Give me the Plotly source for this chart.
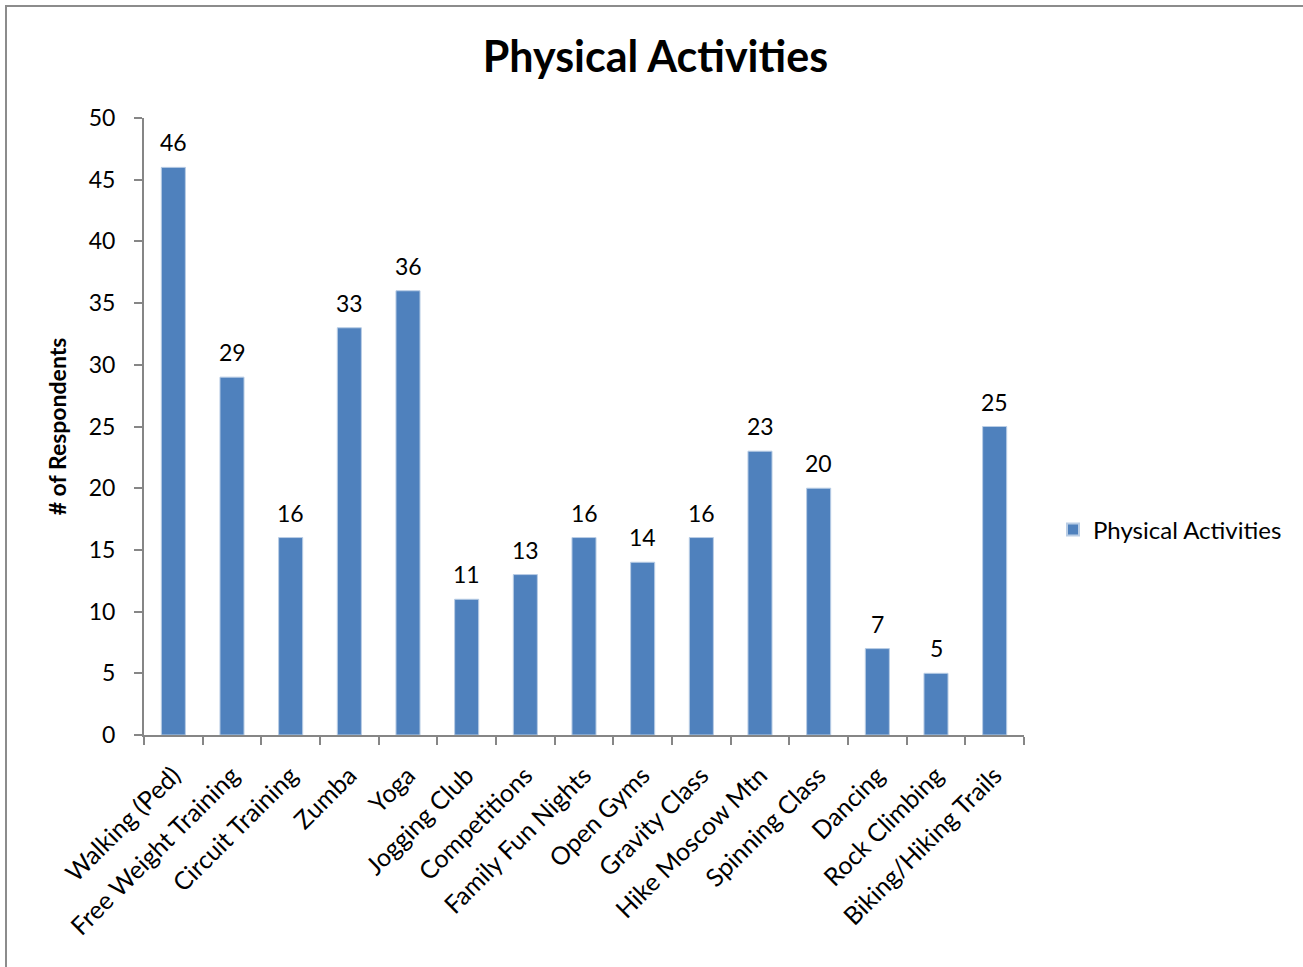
import plotly.graph_objects as go

activities = [
    "Walking (Ped)", "Free Weight Training", "Circuit Training", "Zumba", "Yoga",
    "Jogging Club", "Competitions", "Family Fun Nights", "Open Gyms", "Gravity Class",
    "Hike Moscow Mtn", "Spinning Class", "Dancing", "Rock Climbing", "Biking/Hiking Trails",
]
respondents = [46, 29, 16, 33, 36, 11, 13, 16, 14, 16, 23, 20, 7, 5, 25]
y_ticks = [0, 5, 10, 15, 20, 25, 30, 35, 40, 45, 50]

W, H = 1303, 967
L, R, T, B = 144, 1024, 118, 735

FONT = "Lato, Calibri, Carlito, sans-serif"
FS = 23

fig = go.Figure(
    go.Bar(
        x=activities,
        y=respondents,
        name="Physical Activities",
        marker=dict(color="#4F81BD", line=dict(color="#B9CDE5", width=1)),
        cliponaxis=False,
        showlegend=True,
    )
)

# value labels above each bar
for name, v in zip(activities, respondents):
    fig.add_annotation(
        x=name, y=v, xref="x", yref="y", text=str(v), showarrow=False,
        yanchor="bottom", yshift=9, font=dict(size=FS, family=FONT, color="#000000"),
    )

# chart frame (only its left and top edges fall inside the page)
px = lambda v: (v - L) / (R - L)
py = lambda v: (B - v) / (B - T)
fig.add_shape(
    type="rect", xref="paper", yref="paper",
    x0=px(6), x1=px(W + 20), y0=py(H + 20), y1=py(6),
    line=dict(color="#8C8C8C", width=2), fillcolor="rgba(0,0,0,0)", layer="below",
)

fig.update_layout(
    width=W, height=H,
    margin=dict(l=L, r=W - R, t=T, b=H - B, autoexpand=False),
    paper_bgcolor="white", plot_bgcolor="white",
    font=dict(family=FONT, size=FS, color="#000000"),
    title=dict(
        text="<b>Physical Activities</b>", x=0.503, xref="container", xanchor="center",
        y=1 - 57 / H, yref="container", yanchor="middle",
        font=dict(size=43, family=FONT, color="#000000"),
    ),
    bargap=0.59,
    showlegend=True,
    legend=dict(
        x=px(1053), y=py(530), xanchor="left", yanchor="middle",
        font=dict(size=FS + 1, family=FONT), itemsizing="constant",
        bgcolor="rgba(0,0,0,0)",
    ),
    xaxis=dict(
        showline=True, linecolor="#868686", linewidth=2,
        ticks="outside", ticklen=8, tickcolor="#868686", tickwidth=2,
        tickson="boundaries", tickangle=-45, ticklabelstandoff=14,
        tickfont=dict(size=FS + 2, family=FONT),
        showgrid=False,
    ),
    yaxis=dict(
        range=[0, 50], tickvals=y_ticks,
        showline=True, linecolor="#868686", linewidth=2,
        ticks="outside", ticklen=8, tickcolor="#868686", tickwidth=2,
        ticklabelstandoff=14,
        tickfont=dict(size=FS, family=FONT),
        showgrid=False, zeroline=False,
        title=dict(text="<b># of Respondents</b>", font=dict(size=FS, family=FONT), standoff=16),
    ),
)

fig.write_html("out.html")
